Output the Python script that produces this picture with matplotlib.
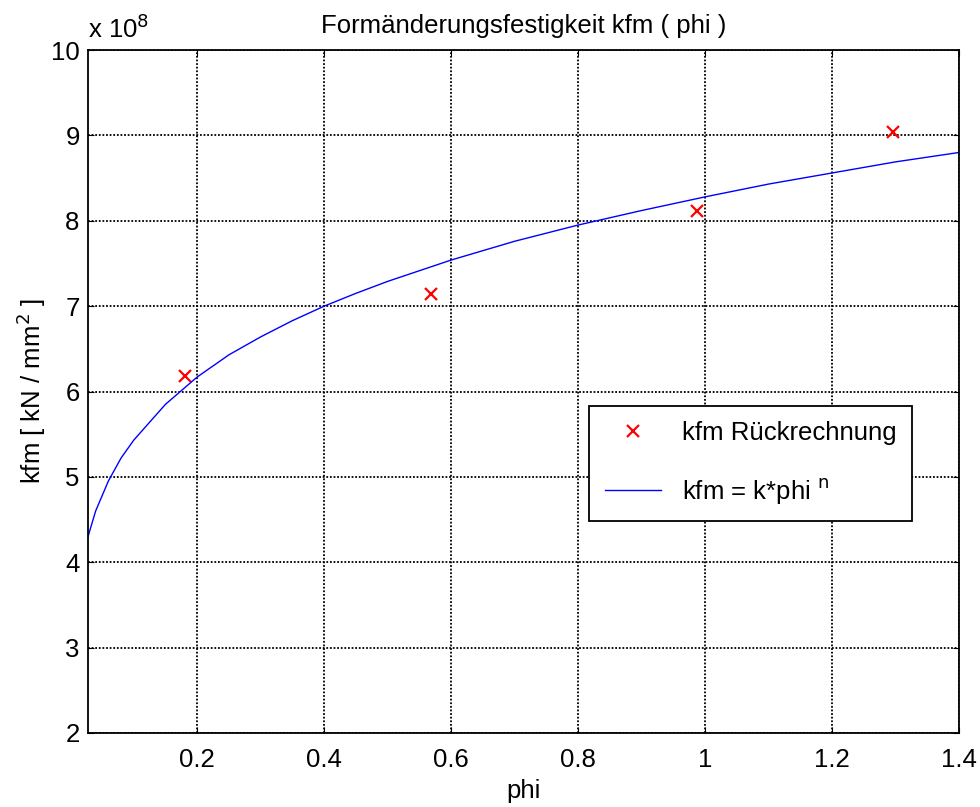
import numpy as np
import matplotlib
matplotlib.use("Agg")
import matplotlib.pyplot as plt

plt.rcParams['font.family'] = ['Liberation Sans', 'DejaVu Sans']

# kfm values in units of 1e8
phi_points = [0.180, 0.568, 0.987, 1.296]
kfm_points = [6.18, 7.14, 8.12, 9.04]

# fitted curve kfm = k*phi^n
phi_curve = [0.028, 0.04, 0.06, 0.08, 0.10, 0.15, 0.20, 0.25, 0.30, 0.35,
             0.40, 0.45, 0.50, 0.60, 0.70, 0.80, 0.90, 1.00, 1.10, 1.20,
             1.30, 1.40]
kfm_curve = [4.30, 4.60, 4.95, 5.22, 5.43, 5.85, 6.17, 6.43, 6.64, 6.83,
             7.00, 7.15, 7.29, 7.54, 7.76, 7.95, 8.12, 8.28, 8.43, 8.56,
             8.69, 8.80]

x_ticks = [0.2, 0.4, 0.6, 0.8, 1.0, 1.2, 1.4]
x_labels = ['0.2', '0.4', '0.6', '0.8', '1', '1.2', '1.4']
y_ticks = [2, 3, 4, 5, 6, 7, 8, 9, 10]

fs = 18.5

fig = plt.figure(figsize=(9.8, 8.07), dpi=100)
ax = fig.add_axes([0.0898, 0.0917, 0.8888, 0.8463])

ax.plot(phi_points, kfm_points, 'x', color='red', markersize=8, mew=1.6,
        label='kfm Rückrechnung')
ax.plot(phi_curve, kfm_curve, '-', color='blue', linewidth=1.0,
        label='kfm = k*phi $^{\\mathrm{n}}$')

ax.set_xlim(0.028, 1.4)
ax.set_ylim(2, 10)
ax.set_xticks(x_ticks)
ax.set_xticklabels(x_labels)
ax.set_yticks(y_ticks)
ax.tick_params(direction='in', length=4, labelsize=fs, top=True, right=True,
               color='black')
ax.tick_params(axis='x', pad=11)
ax.tick_params(axis='y', pad=6)
ax.grid(True, color='black', linestyle=(0, (1, 1)), linewidth=1.3)
for s in ax.spines.values():
    s.set_linewidth(1.3)
    s.set_color('black')

ax.set_title('Formänderungsfestigkeit kfm ( phi )', fontsize=fs, pad=12)
ax.set_xlabel('phi', fontsize=fs, labelpad=5)
ax.set_ylabel('kfm [ kN / mm$^{\\mathrm{2}}$ ]', fontsize=fs, labelpad=2)
ax.text(0.0, 1.01, 'x 10$^{\\mathrm{8}}$', transform=ax.transAxes,
        fontsize=fs, ha='left', va='bottom')

leg = ax.legend(loc='upper left', bbox_to_anchor=(0.561, 0.498), fontsize=fs,
                fancybox=False, edgecolor='black', framealpha=1,
                handlelength=2.2, labelspacing=1.2, borderpad=0.6,
                handletextpad=0.8)
leg.get_frame().set_linewidth(1.3)

fig.savefig('out.png', dpi=100)
